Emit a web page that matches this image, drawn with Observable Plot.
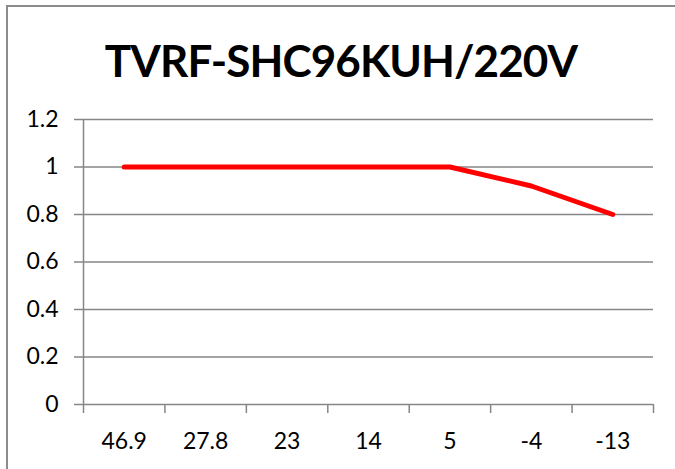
<!DOCTYPE html>
<html><head><meta charset="utf-8">
<script src="https://cdn.jsdelivr.net/npm/d3@7"></script>
<script src="https://cdn.jsdelivr.net/npm/@observablehq/plot@0.6"></script>
<style>
body{margin:0;background:#fff}
#wrap{position:relative;width:675px;height:469px;overflow:hidden;font-family:Lato,"Open Sans",sans-serif}
#frame{position:absolute;left:6px;top:5px;width:720px;height:520px;border:2px solid #8c8c8c;box-sizing:border-box}
#title{position:absolute;left:7px;right:0;top:38px;text-align:center;font-weight:bold;font-size:44px;letter-spacing:-0.9px;line-height:45px;color:#000;white-space:nowrap}
#chart{position:absolute;left:0;top:0}
</style></head><body>
<div id="wrap"><div id="frame"></div><div id="title">TVRF-SHC96KUH/220V</div><div id="chart"></div></div>
<script>
const categories = ["46.9", "27.8", "23", "14", "5", "-4", "-13"];
const values = [1, 1, 1, 1, 1, 0.92, 0.8];
const yTicks = [0, 0.2, 0.4, 0.6, 0.8, 1, 1.2];

const data = categories.map((c, i) => ({i: i + 0.5, c, v: values[i]}));
const bounds = d3.range(categories.length + 1);
const grey = "#868686";

const chart = Plot.plot({
  width: 675, height: 469,
  marginLeft: 83, marginRight: 22, marginTop: 119, marginBottom: 65,
  style: {fontFamily: "Lato, 'Open Sans', sans-serif", fontSize: "23px", color: "#000", background: "transparent", overflow: "visible"},
  x: {domain: [0, categories.length]},
  y: {domain: [0, 1.2]},
  marks: [
    Plot.gridY(yTicks.slice(1), {stroke: grey, strokeOpacity: 1, strokeWidth: 1.5}),
    Plot.ruleY([0], {stroke: grey, strokeWidth: 1.5}),
    Plot.ruleX([0], {stroke: grey, strokeWidth: 1.5}),
    Plot.axisY(yTicks, {tickSize: 9, tickPadding: 16, stroke: grey, strokeWidth: 1.5, fill: "#000", tickFormat: d => String(d), label: null}),
    Plot.axisX(bounds, {tickSize: 9, stroke: grey, strokeWidth: 1.5, tickFormat: () => "", label: null}),
    Plot.axisX(data.map(d => d.i), {tickSize: 0, tickPadding: 28, fill: "#000", tickFormat: i => categories[Math.floor(i)], label: null}),
    Plot.line(data, {x: "i", y: "v", stroke: "#ff0000", strokeWidth: 5, strokeLinecap: "round", strokeLinejoin: "round"})
  ]
});
document.getElementById("chart").appendChild(chart);
</script>
</body></html>
